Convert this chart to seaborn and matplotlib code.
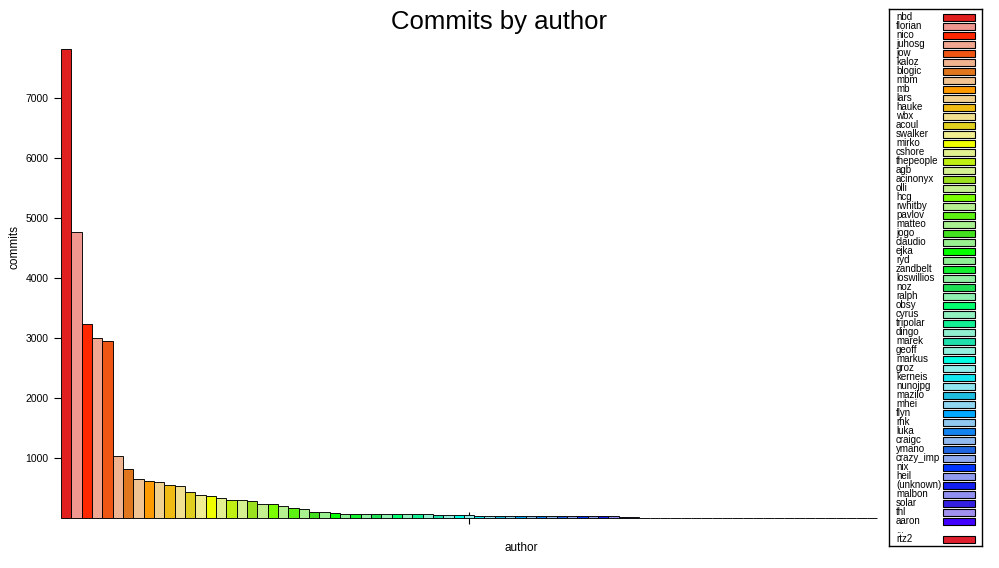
import numpy as np
import pandas as pd
import matplotlib
matplotlib.use("Agg")
import matplotlib.pyplot as plt
import seaborn as sns
from matplotlib.colors import hsv_to_rgb
from matplotlib.patches import Rectangle


# authors shown in the legend (first 57), then "..." and the last one
authors = ["nbd", "florian", "nico", "juhosg", "jow", "kaloz", "blogic", "mbm",
           "mb", "lars", "hauke", "wbx", "acoul", "swalker", "mirko", "cshore",
           "thepeople", "agb", "acinonyx", "olli", "hcg", "rwhitby", "pavlov",
           "matteo", "jogo", "claudio", "ejka", "ryd", "zandbelt", "loswillios",
           "noz", "ralph", "obsy", "cyrus", "tripolar", "dingo", "marek", "geoff",
           "markus", "groz", "kerneis", "nunojpg", "mazilo", "mhei", "flyn", "rhk",
           "luka", "craigc", "ymano", "crazy_imp", "nix", "heil", "(unknown)",
           "malbon", "solar", "thl", "aaron"]
last_author = "rtz2"

# commits per author, sorted, 79 bars in total
commits = [7817, 4767, 3233, 3000, 2950, 1033, 817, 650, 617, 600,
           555, 538, 433, 385, 367, 333, 300, 300, 283, 233,
           233, 200, 167, 150, 100, 100, 83, 67, 67, 67,
           67, 67, 67, 67, 67, 67, 50, 50, 50, 50,
           40, 38, 37, 36, 35, 35, 34, 34, 33, 33,
           32, 32, 31, 31, 30, 14, 13,
           12, 12, 11, 11, 10, 10, 9, 9, 8, 8,
           8, 7, 7, 7, 6, 6, 6, 5, 5, 5, 4, 4]

n = len(commits)


def bar_colors(n):
    # hue walks around the wheel, every other bar is a pale version
    cols = []
    for i in range(n):
        if i % 2 == 0:
            s, v = [(0.86, 0.88), (1.0, 1.0), (0.92, 0.94)][(i // 2) % 3]
        else:
            s, v = 0.40, 0.94
        cols.append(tuple(hsv_to_rgb((i / n, s, v))))
    return cols


colors = bar_colors(n)

sns.set_theme(style="white")
plt.rcParams["font.family"] = ["Liberation Sans", "DejaVu Sans"]
plt.rcParams["text.color"] = "black"
plt.rcParams["xtick.color"] = "black"
plt.rcParams["ytick.color"] = "black"

fig = plt.figure(figsize=(9.99, 5.68), dpi=100)
ax = fig.add_axes([61 / 999, 49.7 / 568, 816 / 999, 480 / 568])

df = pd.DataFrame({"pos": np.arange(n), "commits": commits})
sns.barplot(data=df, x="pos", y="commits", hue="pos", palette=colors,
            legend=False, width=1.0, saturation=1, edgecolor="black",
            linewidth=0.65, ax=ax)
for p in ax.patches:
    p.set_clip_on(False)

ax.set_xlim(-0.5, n - 0.5)
ax.set_ylim(0, 8000)
for s in ax.spines.values():
    s.set_visible(False)

ax.set_yticks(range(1000, 8000, 1000))
ax.tick_params(axis="y", left=True, length=5, width=0.8, labelsize=7.5, pad=4)
ax.set_xticks([(n - 1) / 2])
ax.set_xticklabels([""])
ax.tick_params(axis="x", bottom=True, direction="inout", length=8, width=0.8)
ax.set_xlabel("")
ax.set_ylabel("")

fig.text(499 / 999, 1 - 22 / 568, "Commits by author", ha="center", va="center", fontsize=18.5)
fig.text(521 / 999, 1 - 548 / 568, "author", ha="center", va="center", fontsize=8.5)
fig.text(14 / 999, 1 - 247 / 568, "commits", ha="center", va="center", fontsize=8.5, rotation=90)

# legend box
lax = fig.add_axes([889 / 999, 22 / 568, 93 / 999, 537 / 568])
lax.set_xlim(0, 1)
lax.set_ylim(58.74, -0.92)
lax.set_xticks([])
lax.set_yticks([])
for s in lax.spines.values():
    s.set_color("black")
    s.set_linewidth(1)

rows = [(name, colors[i]) for i, name in enumerate(authors)]
rows.append(("...", None))
rows.append((last_author, colors[n - 1]))
for i, (name, c) in enumerate(rows):
    lax.text(0.075, i, name, ha="left", va="center", fontsize=7)
    if c is not None:
        lax.add_patch(Rectangle((0.58, i - 0.37), 0.34, 0.74, facecolor=c,
                                edgecolor="black", linewidth=0.8))

fig.savefig("out.png", dpi=100)
